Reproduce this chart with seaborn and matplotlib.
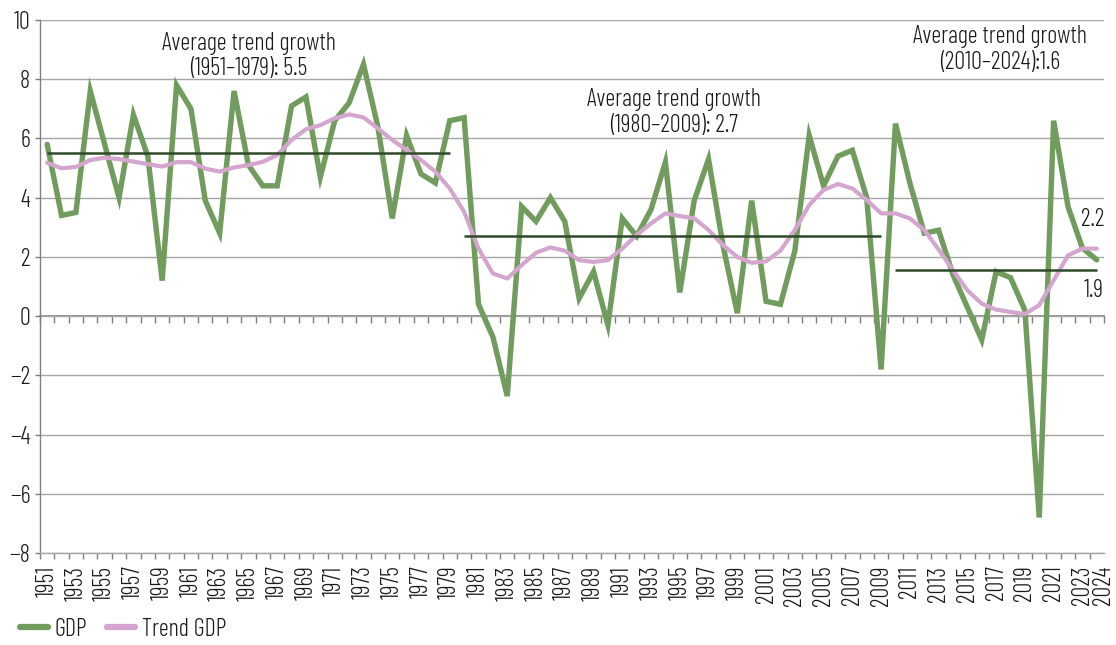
import numpy as np
import pandas as pd
import matplotlib
matplotlib.use("Agg")
import matplotlib.pyplot as plt
import seaborn as sns
from matplotlib.ticker import FixedLocator, NullFormatter, NullLocator

# ---------------- data ----------------
years = list(range(1951, 2025))
gdp = [5.8, 3.4, 3.5, 7.6, 5.8, 4.0, 6.8, 5.4, 1.2, 7.8,
       7.0, 3.9, 2.8, 7.6, 5.1, 4.4, 4.4, 7.1, 7.4, 4.7,
       6.6, 7.2, 8.5, 6.4, 3.3, 6.1, 4.8, 4.5, 6.6, 6.7,
       0.4, -0.7, -2.7, 3.7, 3.2, 4.0, 3.2, 0.6, 1.5, -0.3,
       3.3, 2.7, 3.6, 5.2, 0.8, 3.9, 5.3, 2.4, 0.1, 3.9,
       0.5, 0.4, 2.2, 6.1, 4.4, 5.4, 5.6, 4.0, -1.8, 6.5,
       4.5, 2.8, 2.9, 1.4, 0.3, -0.8, 1.5, 1.3, 0.2, -6.8,
       6.6, 3.7, 2.3, 1.9]
trend = [5.18, 4.99, 5.04, 5.27, 5.35, 5.30, 5.22, 5.13, 5.05, 5.20,
         5.20, 4.98, 4.88, 5.02, 5.10, 5.21, 5.44, 5.95, 6.31, 6.45,
         6.68, 6.81, 6.71, 6.34, 5.95, 5.61, 5.27, 4.88, 4.31, 3.52,
         2.28, 1.44, 1.27, 1.72, 2.14, 2.32, 2.21, 1.89, 1.83, 1.89,
         2.28, 2.74, 3.13, 3.47, 3.38, 3.30, 2.91, 2.40, 2.00, 1.80,
         1.85, 2.21, 2.91, 3.75, 4.26, 4.46, 4.31, 3.92, 3.47, 3.47,
         3.30, 2.91, 2.25, 1.55, 0.87, 0.42, 0.22, 0.14, 0.07, 0.37,
         1.21, 2.05, 2.28, 2.28]
series_names = ["GDP", "Trend GDP"]

avg_starts = [1951, 1980, 2010]
avg_ends = [1979, 2009, 2024]
avg_values = [5.5, 2.7, 1.55]
avg_texts = ["Average trend growth\n(1951\u20131979): 5.5",
             "Average trend growth\n(1980\u20132009): 2.7",
             "Average trend growth\n(2010\u20132024):1.6"]
avg_text_x = [1965.0, 1994.6, 2017.3]
avg_text_y = [8.78, 6.88, 9.0]

end_texts = ["2.2", "1.9"]
end_text_y = [3.25, 0.85]

tick_label_years = list(range(1951, 2024, 2)) + [2024]

# ---------------- style ----------------
green = "#719C5E"
pink = "#D4A5CE"
dark = "#2F4A29"
grid_c = "#A6A6A6"
axis_c = "#7F7F7F"
text_c = "#1A1A1A"
fs = 17.5

sns.set_theme(style="white")
plt.rcParams["font.family"] = ["Barlow Condensed", "DejaVu Sans"]
plt.rcParams["font.weight"] = 300

fig = plt.figure(figsize=(11.16, 6.45), dpi=100)
fig.patch.set_facecolor("white")

ax = fig.add_axes([0.0358, 0.1426, 0.9534, 0.8264])
ax2 = ax.twiny()          # carries the zero line with category ticks
ax.set_zorder(2)
ax.patch.set_visible(False)
ax2.set_zorder(1)

df = pd.DataFrame({
    "Year": years * 2,
    "Value": gdp + trend,
    "Series": [series_names[0]] * len(years) + [series_names[1]] * len(years),
})
sns.lineplot(data=df, x="Year", y="Value", hue="Series",
             palette={series_names[0]: green, series_names[1]: pink},
             ax=ax, legend=False, estimator=None, sort=False)
ax.lines[0].set_linewidth(3.9)
ax.lines[0].set_solid_joinstyle("miter")
ax.lines[0].set_zorder(3)
ax.lines[1].set_linewidth(3.0)
ax.lines[1].set_zorder(4)

for s, e, v in zip(avg_starts, avg_ends, avg_values):
    ax.hlines(v, s, e, color=dark, lw=1.8, zorder=5)

for t, x, y in zip(avg_texts, avg_text_x, avg_text_y):
    ax.text(x, y, t, ha="center", va="center", fontsize=fs, color=text_c,
            linespacing=1.15, zorder=6)
for t, y in zip(end_texts, end_text_y):
    ax.text(years[-1] + 0.5, y, t, ha="right", va="center", fontsize=fs,
            color=text_c, zorder=6)

xmin, xmax = years[0] - 0.5, years[-1] + 0.5
boundaries = np.arange(xmin, xmax + 0.01, 1.0)
label_pos = [y if y != years[-1] else xmax for y in tick_label_years]
ax.set_xlim(xmin, xmax)
ax.set_ylim(-8, 10)
ax.set_yticks(np.arange(-8, 11, 2))
ax.set_xlabel("")
ax.set_ylabel("")
ax.xaxis.set_major_locator(FixedLocator(label_pos))
ax.set_xticklabels([str(y) for y in tick_label_years], rotation=90)
ax.xaxis.set_minor_locator(FixedLocator(boundaries))
ax.tick_params(axis="x", which="major", length=0, pad=9, labelsize=fs,
               labelcolor=text_c)
ax.tick_params(axis="x", which="minor", length=4.5, width=1, color=axis_c,
               direction="out", bottom=True)
ax.tick_params(axis="y", which="major", length=3.5, width=1, color=axis_c,
               direction="out", left=True, labelsize=fs, labelcolor=text_c,
               pad=3.5)
ax.yaxis.grid(True, color=grid_c, lw=1)
ax.xaxis.grid(False)
for sp in ["top", "right"]:
    ax.spines[sp].set_visible(False)
ax.spines["left"].set_color(axis_c)
ax.spines["left"].set_linewidth(1)
ax.spines["bottom"].set_color(grid_c)
ax.spines["bottom"].set_linewidth(1)

ax2.set_xlim(xmin, xmax)
for sp in ["top", "right", "left"]:
    ax2.spines[sp].set_visible(False)
ax2.spines["bottom"].set_position(("data", 0))
ax2.spines["bottom"].set_color(axis_c)
ax2.spines["bottom"].set_linewidth(1.2)
ax2.xaxis.set_ticks_position("bottom")
ax2.xaxis.set_major_locator(FixedLocator(boundaries))
ax2.xaxis.set_major_formatter(NullFormatter())
ax2.xaxis.set_minor_locator(NullLocator())
ax2.tick_params(axis="x", which="major", length=5, width=1, color=axis_c,
                direction="out")

handles = [ax.lines[0], ax.lines[1]]
leg = fig.legend(handles, series_names, loc="lower left",
                 bbox_to_anchor=(-0.002, -0.027), ncol=2, frameon=False,
                 fontsize=fs, handlelength=1.15, handletextpad=0.3,
                 columnspacing=0.8, labelcolor=text_c)
for h in leg.legend_handles:
    h.set_linewidth(4.5)

fig.savefig("out.png", dpi=100)
